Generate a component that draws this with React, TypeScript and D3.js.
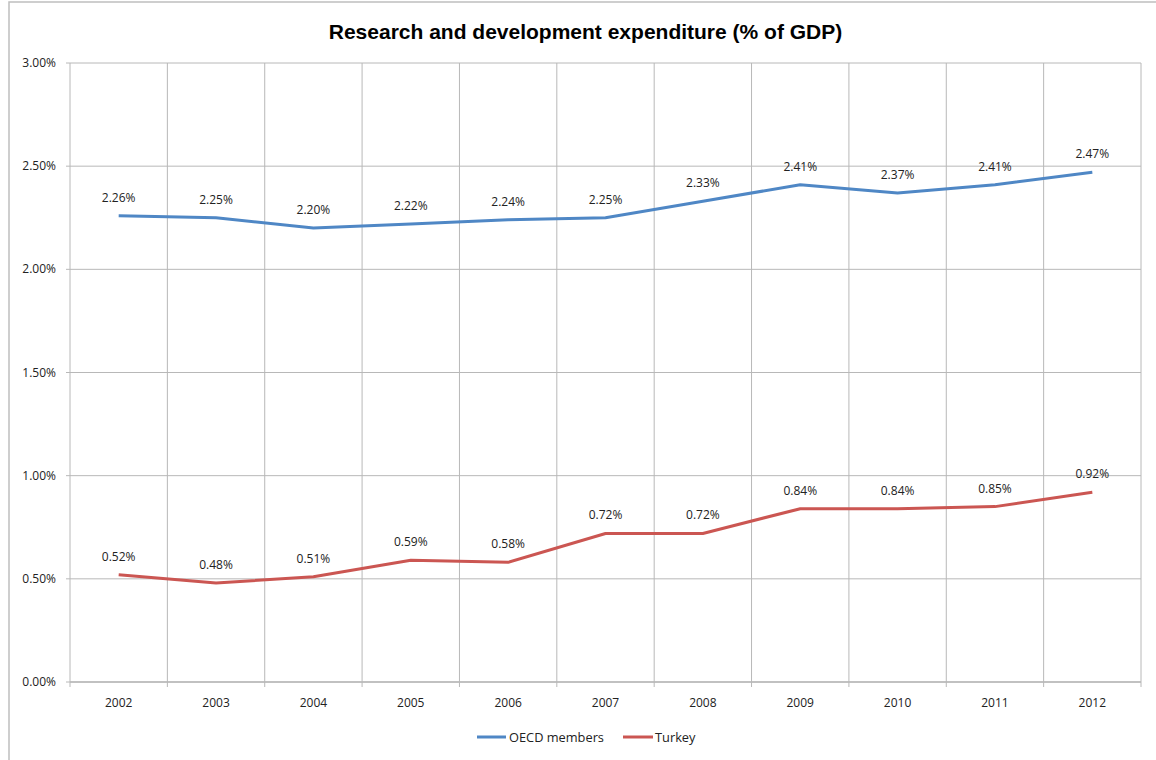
import React from "react";
import * as d3 from "d3";

const years = ["2002","2003","2004","2005","2006","2007","2008","2009","2010","2011","2012"];
const oecd = [2.26,2.25,2.20,2.22,2.24,2.25,2.33,2.41,2.37,2.41,2.47];
const turkey = [0.52,0.48,0.51,0.59,0.58,0.72,0.72,0.84,0.84,0.85,0.92];
const yTicks = [0,0.5,1.0,1.5,2.0,2.5,3.0];
const seriesNames = ["OECD members","Turkey"];
const colors = ["#4F87C5","#CB5652"];

const W = 1156, H = 760;
const left = 70, right = 1141, top = 63, bottom = 682;
const font = "'Open Sans', 'DejaVu Sans', sans-serif";

export default function App() {
  const x = d3.scaleBand().domain(years).range([left, right]);
  const y = d3.scaleLinear().domain([0, 3]).range([bottom, top]);
  const cx = (d: string) => (x(d) as number) + x.bandwidth() / 2;
  const line = d3.line<number>().x((_, i) => cx(years[i])).y(v => y(v));
  const series = [oecd, turkey];
  const fmt = (v: number) => v.toFixed(2) + "%";
  const boundaries = years.map(d => x(d) as number).concat([right]);
  return (
    <div style={{ position: "absolute", left: 0, top: 0 }}>
      <svg width={W} height={H} style={{ display: "block" }}>
        <rect x={0} y={0} width={W} height={H} fill="#fff" />
        <rect x={9} y={2} width={W + 20} height={H + 20} fill="none" stroke="#BEBEBE" strokeWidth={1.5} />
        <text x={585.5} y={39} textAnchor="middle" fontFamily="'Liberation Sans', Arial, sans-serif" fontWeight="bold" fontSize={21}>
          Research and development expenditure (% of GDP)
        </text>
        {yTicks.map(t => (
          <g key={t}>
            <line x1={left - 4} x2={right} y1={y(t)} y2={y(t)} stroke="#B8B8B8" strokeWidth={1} />
            <text x={left - 14} y={y(t) + 4} textAnchor="end" fontFamily={font} fontSize={12} fill="#222">{fmt(t)}</text>
          </g>
        ))}
        {boundaries.map((b, i) => (
          <line key={i} x1={b} x2={b} y1={top} y2={bottom + 5} stroke="#B8B8B8" strokeWidth={1} />
        ))}
        <line x1={left} x2={right} y1={bottom} y2={bottom} stroke="#B8B8B8" strokeWidth={1.5} />
        {years.map(d => (
          <text key={d} x={cx(d)} y={bottom + 25} textAnchor="middle" fontFamily={font} fontSize={12} fill="#222">{d}</text>
        ))}
        {series.map((s, si) => (
          <g key={si}>
            <path d={line(s) as string} fill="none" stroke={colors[si]} strokeWidth={3} strokeLinejoin="round" />
            {s.map((v, i) => (
              <text key={i} x={cx(years[i])} y={y(v) - 14} textAnchor="middle" fontFamily={font} fontSize={12} fill="#222">{fmt(v)}</text>
            ))}
          </g>
        ))}
        <line x1={477} x2={506} y1={737} y2={737} stroke={colors[0]} strokeWidth={3} />
        <text x={509} y={742} fontFamily={font} fontSize={12.8} fill="#222">{seriesNames[0]}</text>
        <line x1={623} x2={653} y1={737} y2={737} stroke={colors[1]} strokeWidth={3} />
        <text x={655} y={742} fontFamily={font} fontSize={12.8} fill="#222">{seriesNames[1]}</text>
      </svg>
    </div>
  );
}
